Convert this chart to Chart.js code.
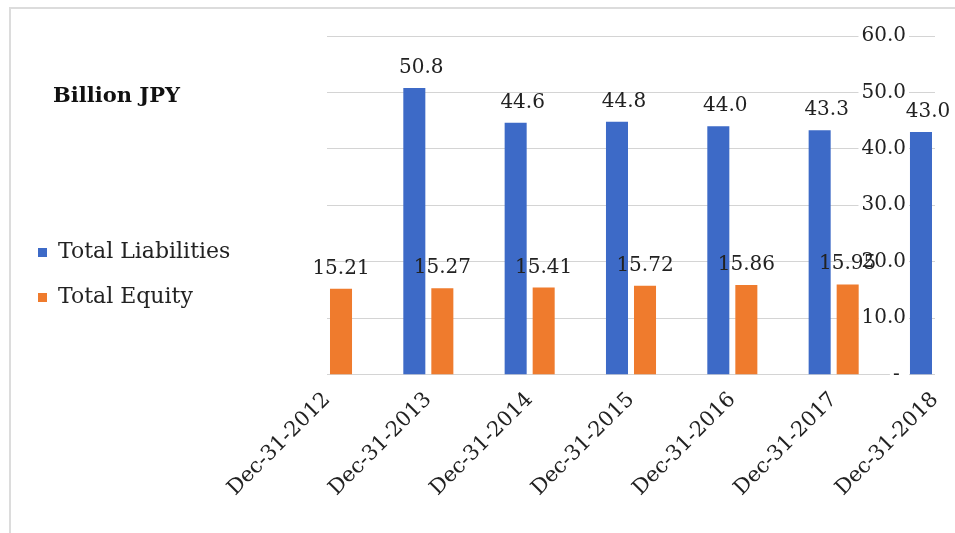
<!DOCTYPE html>
<html>
<head>
<meta charset="utf-8">
<script src="https://cdn.jsdelivr.net/npm/chart.js@4"></script>
<style>
  html, body { margin: 0; padding: 0; background: #fff; overflow: hidden; }
  .frame {
    position: absolute; left: 9px; top: 7px; width: 960px; height: 540px;
    border-top: 2px solid #dcdcdc; border-left: 2px solid #dcdcdc;
  }
  #chart { position: absolute; left: 0; top: 0; }
</style>
</head>
<body>
<div class="frame"></div>
<canvas id="chart" width="955" height="533"></canvas>
<script>
const dates = ['Dec-31-2012', 'Dec-31-2013', 'Dec-31-2014', 'Dec-31-2015', 'Dec-31-2016', 'Dec-31-2017', 'Dec-31-2018'];
const totalLiabilities = [null, 50.8, 44.6, 44.8, 44.0, 43.3, 43.0];
const totalEquity = [15.21, 15.27, 15.41, 15.72, 15.86, 15.95, null];
const axisTicks = [0, 10, 20, 30, 40, 50, 60];

const serif = 'DejaVu Serif';
const ink = '#222';
const plotLeft = 327;

// numbers printed above each bar
const valueLabels = {
  id: 'valueLabels',
  afterDatasetsDraw(chart) {
    const ctx = chart.ctx;
    ctx.save();
    ctx.font = '20px "' + serif + '"';
    ctx.fillStyle = ink;
    ctx.textAlign = 'center';
    ctx.textBaseline = 'alphabetic';
    chart.data.datasets.forEach((ds, i) => {
      chart.getDatasetMeta(i).data.forEach((bar, j) => {
        const v = ds.data[j];
        if (v == null) return;
        ctx.fillText(v.toFixed(ds.decimals), bar.x + ds.labelShift, bar.y - 15);
      });
    });
    ctx.restore();
  }
};

// unit caption above the legend
const unitCaption = {
  id: 'unitCaption',
  afterDraw(chart) {
    const ctx = chart.ctx;
    ctx.save();
    ctx.font = 'bold 21px "' + serif + '"';
    ctx.fillStyle = '#111';
    ctx.textBaseline = 'middle';
    ctx.fillText('Billion JPY', 53, 97);
    ctx.restore();
  }
};

Chart.defaults.font.family = serif;
Chart.defaults.color = ink;

new Chart(document.getElementById('chart'), {
  type: 'bar',
  data: {
    labels: dates,
    datasets: [{
      label: 'Total Liabilities',
      data: totalLiabilities,
      backgroundColor: '#3D6AC7',
      decimals: 1,
      labelShift: 7
    }, {
      label: 'Total Equity',
      data: totalEquity,
      backgroundColor: '#EF7B2D',
      decimals: 2,
      labelShift: 0
    }]
  },
  options: {
    responsive: false,
    animation: false,
    categoryPercentage: 0.553,
    barPercentage: 0.786,
    layout: { padding: { left: 15, top: 36, right: 20, bottom: 19 } },
    plugins: {
      tooltip: { enabled: false },
      legend: {
        position: 'left',
        align: 'center',
        maxWidth: 300,
        labels: {
          boxWidth: 9,
          boxHeight: 9,
          padding: 23,
          color: ink,
          font: { size: 22 }
        }
      }
    },
    scales: {
      x: {
        offset: false,
        grid: { display: false, drawTicks: false },
        border: { display: false },
        ticks: {
          autoSkip: false,
          minRotation: 45,
          maxRotation: 45,
          padding: 13,
          font: { size: 21 }
        },
        afterFit(scale) {
          // the last slanted label may hang into the right margin
          scale.paddingRight = 0;
        }
      },
      // empty column between the legend and the plot
      gap: {
        type: 'linear',
        position: 'left',
        grid: { display: false },
        border: { display: false },
        ticks: { display: false },
        afterFit(scale) {
          const legendWidth = scale.chart.legend ? scale.chart.legend.width : 0;
          scale.width = Math.max(0, plotLeft - 15 - legendWidth);
        }
      },
      y: {
        position: 'right',
        min: axisTicks[0],
        max: axisTicks[axisTicks.length - 1],
        border: { display: false },
        grid: { color: '#d4d4d4', lineWidth: 1, drawTicks: false },
        ticks: {
          stepSize: axisTicks[1] - axisTicks[0],
          mirror: true,
          padding: -29,
          font: { size: 20 },
          showLabelBackdrop: true,
          backdropColor: '#fff',
          backdropPadding: { x: 3, y: 0 },
          callback: (v) => v === 0 ? '- ' : v.toFixed(1)
        }
      }
    }
  },
  plugins: [valueLabels, unitCaption]
});
</script>
</body>
</html>
